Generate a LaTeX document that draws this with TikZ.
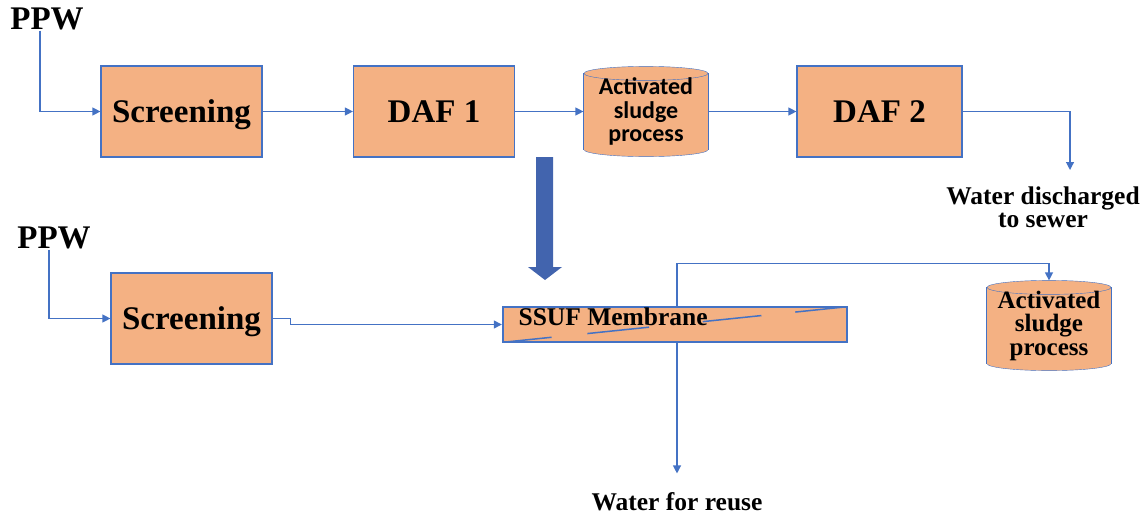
\documentclass[tikz,border=0pt]{standalone}
\usepackage{fontspec}
\setmainfont{Liberation Serif}
\newfontfamily\calfont{Carlito}
\usetikzlibrary{arrows.meta,calc,backgrounds}
\definecolor{boxfill}{RGB}{244,177,131}
\definecolor{lineblue}{RGB}{68,114,196}
\definecolor{bigblue}{RGB}{66,100,174}

\begin{document}
\begin{tikzpicture}[x=1pt,y=-1pt,
    line width=1.2pt,
    flow/.style={draw=lineblue,-{Triangle[length=8pt,width=8pt]}},
    plain/.style={draw=lineblue},
    unit/.style={draw=lineblue,fill=boxfill,minimum width=161pt,minimum height=91pt,inner sep=0pt,text depth=0pt,font=\bfseries\fontsize{33}{36}\selectfont},
    tank/.style={minimum width=124pt,minimum height=89pt,inner sep=0pt,align=center},
    membrane/.style={draw=lineblue,fill=boxfill,line width=2.4pt,minimum width=344pt,minimum height=35pt,inner sep=0pt},
    tag/.style={inner sep=0pt,font=\bfseries\fontsize{33}{36}\selectfont},
    outtag/.style={inner sep=0pt,align=center,font=\bfseries\fontsize{25.5}{23}\selectfont}]

  \useasboundingbox (0,0) rectangle (1147,514);

  %% Current process
  \node[tag] (ppwa) at (47,19) {PPW};
  \node[unit] (scra) at (181.5,111.5) {Screening};
  \node[unit] (dafa) at (434,111.5) {DAF 1};
  \node[tank,font=\calfont\bfseries\fontsize{24}{23.5}\selectfont] (aspa) at (646,111.5) {Activated\\sludge\\process};
  \node[unit,minimum width=165pt] (dafb) at (879.5,111.5) {DAF 2};
  \node[outtag] (sewer) at (1043,207) {Water discharged\\to sewer};
  \coordinate (sewerin) at (1070,170);

  \draw[flow] ([xshift=-7pt]ppwa.south) |- (scra.west);
  \draw[flow] (scra.east) -- (dafa.west);
  \draw[flow] (dafa.east) -- (aspa.west);
  \draw[flow] (aspa.east) -- (dafb.west);
  \draw[flow] (dafb.east) -| (sewerin);

  %% Change of process
  \fill[bigblue] (536,157) -- (553,157) -- (553,267) -- (562,267) -- (545,280) -- (528,267) -- (536,267) -- cycle;

  %% Proposed process
  \node[tag] (ppwb) at (54,238) {PPW};
  \node[unit] (scrb) at (191.5,318.5) {Screening};
  \node[membrane] (ssuf) at (675,324.5) {};
  \node[anchor=west,inner sep=0pt,font=\bfseries\fontsize{25.5}{28}\selectfont] (ssuftext) at (518,317) {SSUF Membrane};
  \node[tank,font=\bfseries\fontsize{25}{23.5}\selectfont] (aspb) at (1049,325.5) {Activated\\sludge\\process};
  \node[outtag,anchor=base] (reuse) at (677,510) {Water for reuse};

  %% Tanks behind their text
  \begin{scope}[on background layer]
    \foreach \t in {aspa,aspb}{
      \filldraw[draw=lineblue,fill=boxfill] ($(\t.south)+(0,-7)$) ellipse (62pt and 7pt);
      \fill[boxfill] ($(\t.north west)+(0,7)$) rectangle ($(\t.south east)+(0,-7)$);
      \draw[lineblue] ($(\t.north west)+(0,7)$) -- ($(\t.south west)+(0,-7)$);
      \draw[lineblue] ($(\t.north east)+(0,7)$) -- ($(\t.south east)+(0,-7)$);
      \filldraw[draw=lineblue,fill=boxfill] ($(\t.north)+(0,7)$) ellipse (62pt and 7pt);
    }
  \end{scope}

  %% Membrane lines
  \draw[plain,line width=1.5pt,dash pattern=on 48pt off 36pt on 62pt off 54pt on 59pt off 34pt on 47pt off 60pt]
    ([xshift=2pt,yshift=1pt]ssuf.south west) -- ([xshift=-2pt,yshift=-1pt]ssuf.north east);

  \draw[flow] ([xshift=-5pt]ppwb.south) |- (scrb.west);
  \draw[flow] (scrb.east) -- ++(18,0) |- (ssuf.west);
  \draw[flow] ([xshift=2pt]ssuf.north) -- ++(0,-42) -| (aspb.north);
  \draw[flow] ([xshift=2pt]ssuf.south) -- ([yshift=18pt]reuse.north);

\end{tikzpicture}
\end{document}
